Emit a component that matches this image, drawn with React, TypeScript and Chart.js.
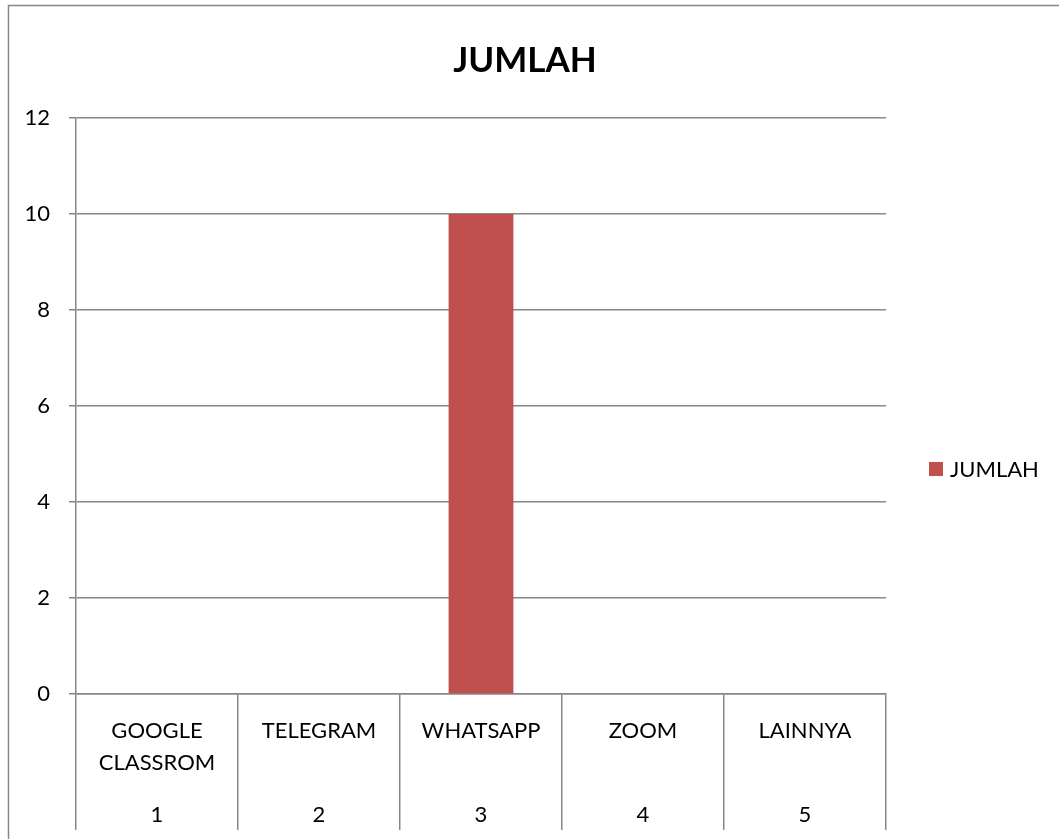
import React, { useEffect, useRef } from "react";
import { Chart, registerables } from "chart.js";

Chart.register(...registerables);

const categories = ["GOOGLE\nCLASSROM", "TELEGRAM", "WHATSAPP", "ZOOM", "LAINNYA"];
const categoryNumbers = ["1", "2", "3", "4", "5"];
const seriesName = "JUMLAH";
const values = [0, 0, 10, 0, 0];
const yTicks = [0, 2, 4, 6, 8, 10, 12];

const W = 1059;
const H = 839;
const FONT = "Lato, 'Noto Sans', sans-serif";
const GRID = "#878787";
const BAR = "#C0504D";

const decorPlugin = {
  id: "decor",
  beforeDraw(chart: any) {
    const ctx = chart.ctx;
    ctx.save();
    ctx.fillStyle = "#ffffff";
    ctx.fillRect(0, 0, W, H);
    ctx.strokeStyle = GRID;
    ctx.lineWidth = 1.5;
    ctx.beginPath();
    ctx.moveTo(8.5, H);
    ctx.lineTo(8.5, 5.5);
    ctx.lineTo(W, 5.5);
    ctx.stroke();
    ctx.restore();
  },
  afterDraw(chart: any) {
    const ctx = chart.ctx;
    const xs = chart.scales.x;
    ctx.save();
    // title
    ctx.fillStyle = "#000";
    ctx.textAlign = "center";
    ctx.textBaseline = "middle";
    ctx.font = `bold 35px ${FONT}`;
    ctx.fillText(seriesName, 525, 61);
    // x labels
    ctx.font = `22px ${FONT}`;
    const labels = chart.data.labels as string[];
    labels.forEach((lab, i) => {
      const x = xs.getPixelForValue(i);
      const lines = String(lab).split("\n");
      lines.forEach((ln, j) => {
        ctx.fillText(ln, x, 731 + j * 32);
      });
      ctx.fillText(categoryNumbers[i], x, 815);
    });
    // legend
    const ds = chart.data.datasets[0];
    ctx.fillStyle = ds.backgroundColor;
    ctx.fillRect(929, 462, 14, 14);
    ctx.fillStyle = "#000";
    ctx.textAlign = "left";
    ctx.fillText(ds.label, 950, 470);
    ctx.restore();
  },
};

export default function App() {
  const ref = useRef<HTMLCanvasElement>(null);
  useEffect(() => {
    if (!ref.current) return;
    const chart = new Chart(ref.current, {
      type: "bar",
      data: {
        labels: categories,
        datasets: [
          {
            label: seriesName,
            data: values,
            backgroundColor: BAR,
            barPercentage: 0.4,
            categoryPercentage: 1,
          },
        ],
      },
      options: {
        responsive: false,
        animation: false,
        devicePixelRatio: 1,
        layout: { padding: { left: 0, top: 118, right: W - 886, bottom: 9 } },
        plugins: {
          legend: { display: false },
          title: { display: false },
          tooltip: { enabled: false },
        },
        scales: {
          x: {
            offset: true,
            grid: {
              offset: true,
              drawOnChartArea: false,
              drawTicks: true,
              tickLength: 136,
              color: GRID,
              lineWidth: 1.5,
            },
            border: { color: GRID, width: 1.5 },
            ticks: { display: false },
            afterFit(scale: any) {
              scale.height = 136;
            },
          },
          y: {
            min: 0,
            max: 12,
            afterBuildTicks(scale: any) {
              scale.ticks = yTicks.map((v) => ({ value: v }));
            },
            grid: {
              color: GRID,
              lineWidth: 1.5,
              tickLength: 7,
            },
            border: { color: GRID, width: 1.5 },
            ticks: {
              color: "#000",
              padding: 19,
              font: { family: FONT, size: 22 },
            },
            afterFit(scale: any) {
              scale.width = 76;
            },
          },
        },
      },
      plugins: [decorPlugin],
    } as any);
    return () => chart.destroy();
  }, []);
  return (
    <div style={{ position: "absolute", left: 0, top: 0, width: W, height: H, background: "#fff" }}>
      <canvas ref={ref} width={W} height={H} style={{ display: "block", width: W, height: H }} />
    </div>
  );
}
